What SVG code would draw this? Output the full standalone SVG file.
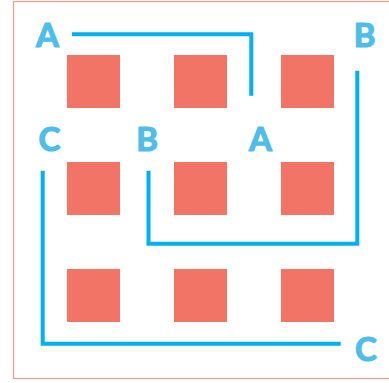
<svg xmlns="http://www.w3.org/2000/svg" width="389" height="383" viewBox="0 0 389 383">
<style>
.sq{fill:#F27466}
.lbl{font-family:Lato,"Open Sans","Liberation Sans",sans-serif;font-weight:bold;font-size:33px;fill:#4FBDEA;stroke:#4FBDEA;stroke-width:1.2;stroke-linejoin:round;text-anchor:middle}
.ln{fill:none;stroke:#00B0F0;stroke-width:4;stroke-linejoin:miter}
</style>
<rect x="0" y="0" width="389" height="383" fill="#FFFFFF"/>
<rect x="13.5" y="1.5" width="390" height="377" fill="none" stroke="#F4998A" stroke-width="1.2"/>
<g id="squares">
<rect class="sq" x="67" y="55" width="53" height="53"/>
<rect class="sq" x="174" y="55" width="53" height="53"/>
<rect class="sq" x="281" y="55" width="53" height="53"/>
<rect class="sq" x="67" y="162" width="53" height="53"/>
<rect class="sq" x="174" y="162" width="53" height="53"/>
<rect class="sq" x="281" y="162" width="53" height="53"/>
<rect class="sq" x="67" y="269" width="53" height="53"/>
<rect class="sq" x="174" y="269" width="53" height="53"/>
<rect class="sq" x="281" y="269" width="53" height="53"/>
</g>
<g id="connectors">
<polyline class="ln" points="72,34.3 251.3,34.3 251.3,95.7"/>
<polyline class="ln" points="357.3,70.7 357.3,243.7 148.5,243.7 148.5,170.7"/>
<polyline class="ln" points="42.7,170.7 42.7,343.7 340.7,343.7"/>
</g>
<g id="label-A1"><text class="lbl" x="47.5" y="47">A</text></g>
<g id="label-B1"><text class="lbl" x="364.7" y="47">B</text></g>
<g id="label-C1"><text class="lbl" x="49.5" y="151">C</text></g>
<g id="label-B2"><text class="lbl" x="147" y="151">B</text></g>
<g id="label-A2"><text class="lbl" x="260.5" y="151">A</text></g>
<g id="label-C2"><text class="lbl" x="366" y="361">C</text></g>
</svg>
